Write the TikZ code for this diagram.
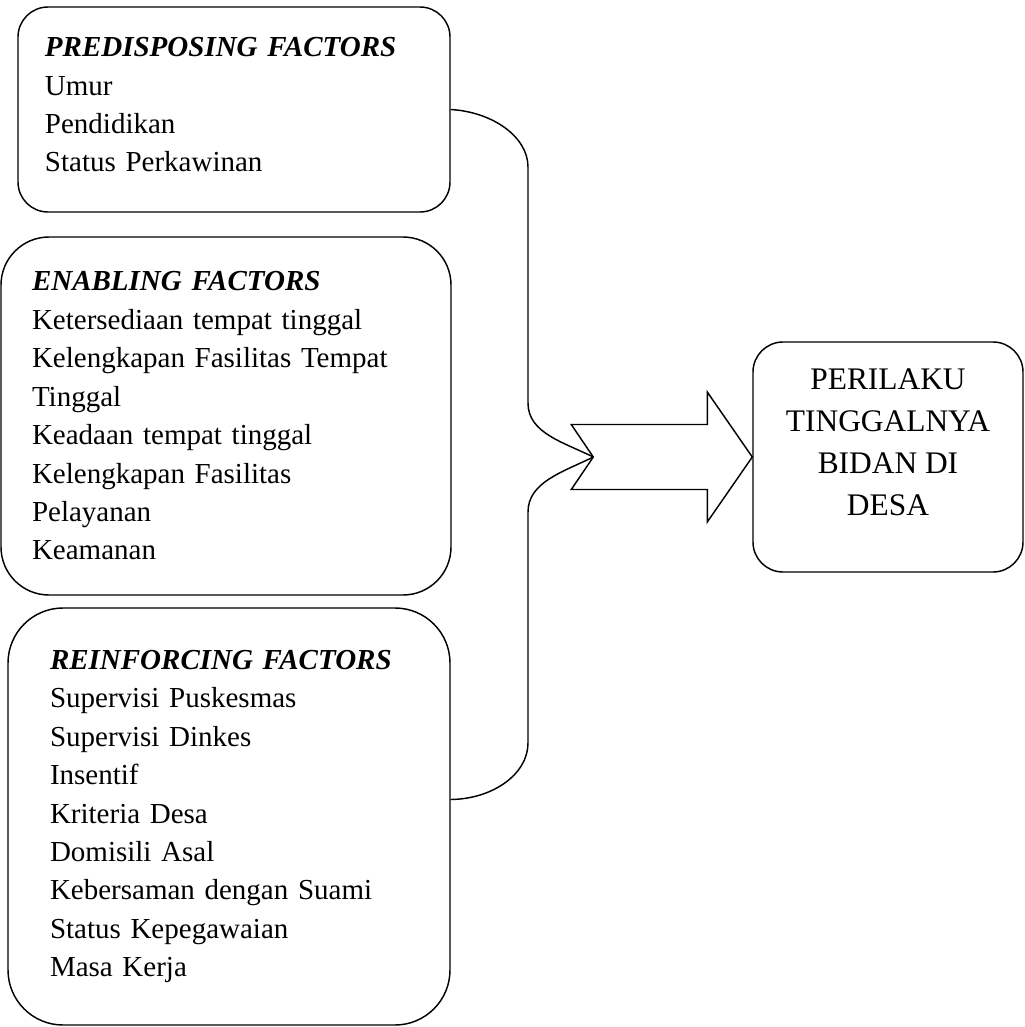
\documentclass[tikz,border=0pt]{standalone}
\usepackage{fontspec}
\setmainfont{Liberation Serif}
\usetikzlibrary{calc}
\newcommand\pxu{0.4138pt}

\begin{document}
\begin{tikzpicture}[x=\pxu, y=-\pxu,
    factor/.style={draw, line width=0.6pt, align=left, inner ysep=0pt,
      font=\fontsize{12}{15.9}\selectfont},
    outcome/.style={draw, line width=0.6pt, align=center,
      font=\fontsize{13}{17.4}\selectfont},
    link/.style={line width=0.6pt}]
  \useasboundingbox (0,0) rectangle (1025,1027);

  % ---- factor boxes (left column) ----
  \node[factor, rounded corners=30*\pxu, minimum width=432*\pxu,
        minimum height=205*\pxu, inner xsep=27*\pxu, text width=156.42pt,
        text depth=51.7pt]
    (predisposing) at (234,109.5)
    {\textbf{\textit{PREDISPOSING FACTORS}}\\ Umur\\ Pendidikan\\ Status Perkawinan};
  \node[factor, rounded corners=48*\pxu, minimum width=450*\pxu,
        minimum height=358*\pxu, inner xsep=31*\pxu, text width=160.55pt]
    (enabling) at (226,416)
    {\textbf{\textit{ENABLING FACTORS}}\\ Ketersediaan tempat tinggal\\
     Kelengkapan Fasilitas Tempat\\ Tinggal\\ Keadaan tempat tinggal\\
     Kelengkapan Fasilitas\\ Pelayanan\\ Keamanan};
  \node[factor, rounded corners=55*\pxu, minimum width=442*\pxu,
        minimum height=417*\pxu, inner xsep=42*\pxu, text width=148.14pt]
    (reinforcing) at (229,816.5)
    {\textbf{\textit{REINFORCING FACTORS}}\\ Supervisi Puskesmas\\ Supervisi Dinkes\\
     Insentif\\ Kriteria Desa\\ Domisili Asal\\ Kebersaman dengan Suami\\
     Status Kepegawaian\\ Masa Kerja};

  % ---- outcome box ----
  \node[outcome, rounded corners=30*\pxu, minimum width=270*\pxu,
        minimum height=230*\pxu, text depth=12pt] (perilaku) at (888,457)
    {PERILAKU\\ TINGGALNYA\\ BIDAN DI\\ DESA};

  % ---- notched block arrow ----
  \coordinate (notch) at ($(perilaku.west)+(-159,0)$);
  \draw[link] (perilaku.west) -- ++(-45,-65) -- ++(0,32.5) -- ++(-136,0)
    -- (notch) -- ++(-22,32.5) -- ++(136,0) -- ++(0,32.5) -- cycle;

  % ---- brace joining the boxes ----
  \coordinate (r3) at ($(reinforcing.east)+(0,-17)$);
  \draw[link] (predisposing.east) .. controls (493,112) and (528,137) .. (528,167)
    -- (528,403) .. controls (528,433) and (563,442) .. (notch);
  \draw[link] (notch) .. controls (563,472) and (528,482) .. (528,512)
    -- (528,743) .. controls (528,774) and (493,799) .. (r3);
\end{tikzpicture}
\end{document}
